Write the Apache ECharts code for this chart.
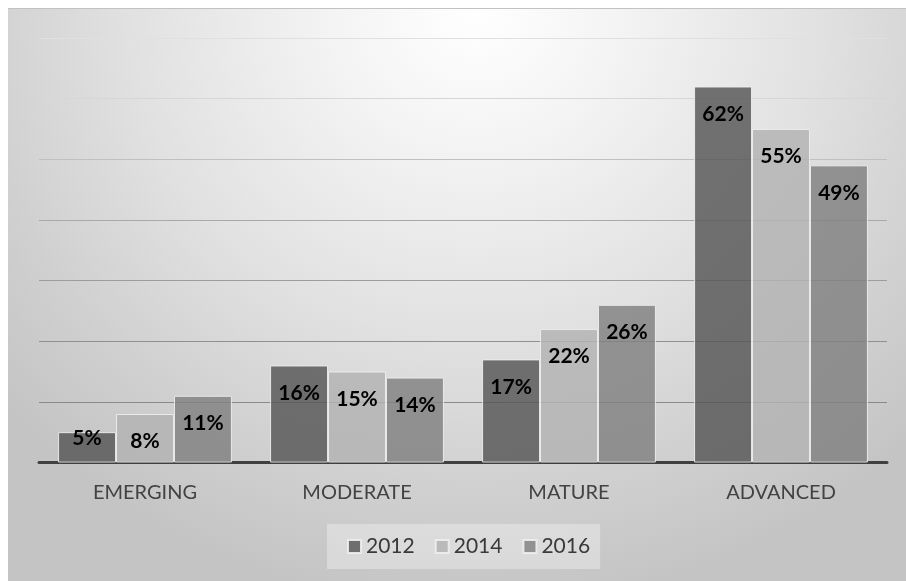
<!DOCTYPE html>
<html>
<head>
<meta charset="utf-8">
<script src="https://cdn.jsdelivr.net/npm/echarts@6/dist/echarts.min.js"></script>
<style>
  html, body { margin: 0; padding: 0; background: #ffffff; }
  #frame {
    position: absolute; left: 8px; top: 8px; width: 898px; height: 573px;
    box-sizing: border-box; border-top: 1px solid #c2c2c2;
    background: radial-gradient(ellipse 70% 105% at 52% 0%, #ffffff 0%, #f4f4f4 22%, #e1e1e1 55%, #d0d0d0 80%, #c4c4c4 100%);
  }
  #chart { position: absolute; left: 0; top: 0; width: 906px; height: 581px; }
</style>
</head>
<body>
<div id="frame"></div>
<div id="chart"></div>
<script>
// Maturity stages and share of respondents per survey year (percent)
const categories = ['EMERGING', 'MODERATE', 'MATURE', 'ADVANCED'];
const years = ['2012', '2014', '2016'];
const values2012 = [5, 16, 17, 62];
const values2014 = [8, 15, 22, 55];
const values2016 = [11, 14, 26, 49];

const seriesValues = [values2012, values2014, values2016];
const barColors = ['rgba(86,86,86,0.82)', 'rgba(178,178,178,0.82)', 'rgba(128,128,128,0.82)'];

const chart = echarts.init(document.getElementById('chart'), null, { renderer: 'canvas' });

// gridlines fade from light at the top to darker near the baseline
const gridColor = new echarts.graphic.LinearGradient(0, 38, 0, 402, [
  { offset: 0, color: '#e0e0e0' },
  { offset: 0.17, color: '#d6d6d6' },
  { offset: 0.5, color: '#a9a9a9' },
  { offset: 0.83, color: '#909090' },
  { offset: 1, color: '#8a8a8a' }
], true);

function labelFor(v) {
  // short bars keep their label lifted so it stays above the baseline
  const offsetY = v < 6 ? 6 : 27.5;
  return {
    show: true,
    position: ['50%', offsetY],
    align: 'center',
    verticalAlign: 'middle',
    formatter: '{c}%',
    color: '#000000',
    fontFamily: 'Lato',
    fontWeight: 'bold',
    fontSize: 21
  };
}

const series = years.map((y, i) => ({
  name: y,
  type: 'bar',
  barGap: '0%',
  barCategoryGap: '18%',
  itemStyle: { color: barColors[i], borderColor: 'rgba(238,238,238,0.9)', borderWidth: 1 },
  data: seriesValues[i].map(v => ({ value: v, label: labelFor(v) }))
}));

chart.setOption({
  backgroundColor: 'transparent',
  animation: false,
  grid: { left: 39, right: 19, top: 38, bottom: 118.5, containLabel: false },
  legend: {
    data: years,
    left: 327,
    top: 524,
    padding: [12, 10, 12, 20],
    backgroundColor: 'rgba(255,255,255,0.32)',
    itemWidth: 13,
    itemHeight: 13,
    itemGap: 20,
    icon: 'rect',
    textStyle: { color: '#3a3a3a', fontFamily: 'Lato', fontSize: 21 }
  },
  xAxis: {
    type: 'category',
    data: categories,
    axisTick: { show: false },
    axisLine: { lineStyle: { color: '#404040', width: 3 } },
    axisLabel: { color: '#424242', fontFamily: 'Lato', fontSize: 20, margin: 20 }
  },
  yAxis: {
    type: 'value',
    min: 0,
    max: 70,
    interval: 10,
    axisLabel: { show: false },
    axisLine: { show: false },
    axisTick: { show: false },
    splitLine: { lineStyle: { color: gridColor, width: 1 } }
  },
  series: series
});
</script>
</body>
</html>
